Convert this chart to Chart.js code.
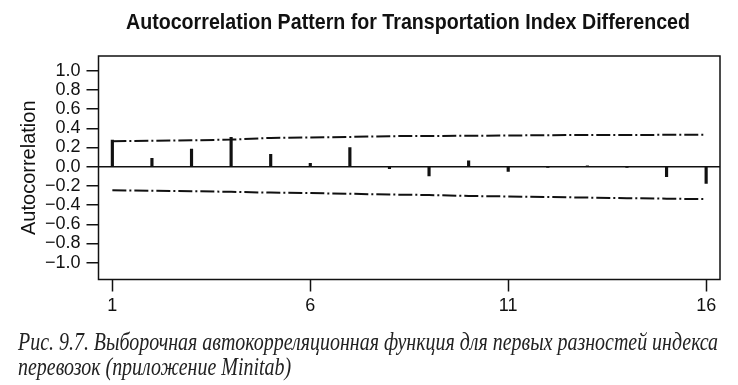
<!DOCTYPE html>
<html>
<head>
<meta charset="utf-8">
<script src="https://cdn.jsdelivr.net/npm/chart.js@4.4.1/dist/chart.umd.min.js"></script>
<style>
  html, body { margin: 0; padding: 0; background: #fff; }
  #wrap { position: relative; width: 738px; height: 385px; overflow: hidden; background: #fff; }
  #c { position: absolute; left: 0; top: 0; }
  .txt { position: absolute; white-space: nowrap; transform-origin: 0 0; color: #111; }
  #title { font: bold 22px 'Liberation Sans', Arial, sans-serif; top: 9px; left: 126px; }
  .cap { font: italic 25px 'Liberation Serif', 'DejaVu Serif', serif; left: 18px; color: #222; }
  #cap1 { top: 328px; }
  #cap2 { top: 353px; }
</style>
</head>
<body>
<div id="wrap">
  <canvas id="c" width="738" height="385"></canvas>
  <div id="title" class="txt">Autocorrelation Pattern for Transportation Index Differenced</div>
  <div id="cap1" class="txt cap">Рис. 9.7. Выборочная автокорреляционная функция для первых разностей индекса</div>
  <div id="cap2" class="txt cap">перевозок (приложение Minitab)</div>
</div>
<script>
// ---- data ----
const lags = [1, 2, 3, 4, 5, 6, 7, 8, 9, 10, 11, 12, 13, 14, 15, 16];
const acf = [0.278, 0.087, 0.184, 0.305, 0.129, 0.035, 0.198, -0.02, -0.095, 0.06, -0.05, -0.008, 0.006, -0.004, -0.104, -0.173];
const upperLimit = [0.265, 0.27, 0.275, 0.282, 0.3, 0.305, 0.31, 0.318, 0.32, 0.322, 0.325, 0.328, 0.33, 0.33, 0.332, 0.333];
const lowerLimit = [-0.245, -0.25, -0.255, -0.262, -0.27, -0.275, -0.282, -0.29, -0.295, -0.305, -0.31, -0.315, -0.322, -0.328, -0.333, -0.338];
const yTicks = [-1.0, -0.8, -0.6, -0.4, -0.2, 0.0, 0.2, 0.4, 0.6, 0.8, 1.0];
const xTicks = [1, 6, 11, 16];
const yTitle = 'Autocorrelation';

// ---- fit html texts to measured widths ----
function fitWidth(id, target) {
  const el = document.getElementById(id);
  const w = el.getBoundingClientRect().width;
  return target / w;
}
const sTitle = fitWidth('title', 564);
document.getElementById('title').style.transform = 'scaleX(' + sTitle + ')';
const sCap = fitWidth('cap1', 700);
document.getElementById('cap1').style.transform = 'scaleX(' + sCap + ')';
document.getElementById('cap2').style.transform = 'scaleX(' + sCap + ')';

const INK = '#111';
const tickFont = { family: "'Liberation Sans', Arial, sans-serif", size: 18 };

const boxPlugin = {
  id: 'box',
  afterDatasetsDraw(chart) {
    const { ctx, chartArea: a } = chart;
    ctx.save();
    ctx.strokeStyle = INK;
    ctx.lineWidth = 1.5;
    ctx.strokeRect(a.left, a.top, a.right - a.left, a.bottom - a.top);
    ctx.restore();
  }
};

new Chart(document.getElementById('c'), {
  type: 'bar',
  data: {
    datasets: [
      {
        type: 'bar',
        data: lags.map((l, i) => ({ x: l, y: acf[i] })),
        backgroundColor: INK,
        borderWidth: 0,
        barThickness: 2.5,
        order: 2
      },
      {
        type: 'line',
        data: lags.map((l, i) => ({ x: l, y: upperLimit[i] })),
        borderColor: INK,
        borderWidth: 2,
        borderDash: [14, 3, 2, 3],
        pointRadius: 0,
        fill: false,
        tension: 0,
        order: 1
      },
      {
        type: 'line',
        data: lags.map((l, i) => ({ x: l, y: lowerLimit[i] })),
        borderColor: INK,
        borderWidth: 2,
        borderDash: [14, 3, 2, 3],
        pointRadius: 0,
        fill: false,
        tension: 0,
        order: 1
      }
    ]
  },
  options: {
    responsive: false,
    animation: false,
    devicePixelRatio: 1,
    layout: { padding: { top: 56, right: 18, bottom: 0, left: 0 } },
    plugins: { legend: { display: false }, title: { display: false }, tooltip: { enabled: false } },
    scales: {
      x: {
        type: 'linear',
        min: 0.65,
        max: 16.35,
        offset: false,
        afterBuildTicks: s => { s.ticks = xTicks.map(v => ({ value: v })); },
        afterFit: s => { s.height = 105.5; },
        border: { display: false },
        grid: { offset: false, drawOnChartArea: false, drawTicks: true, tickLength: 12, tickColor: INK, tickWidth: 1.5 },
        ticks: { color: INK, font: tickFont, padding: 4, maxRotation: 0, autoSkip: false, callback: v => String(v) }
      },
      y: {
        type: 'linear',
        min: -1.175,
        max: 1.153,
        afterBuildTicks: s => { s.ticks = yTicks.map(v => ({ value: v })); },
        afterFit: s => { s.width = 98.5; },
        border: { display: false },
        grid: {
          drawOnChartArea: true,
          color: c => (c.tick && Math.abs(c.tick.value) < 1e-9 ? INK : 'rgba(0,0,0,0)'),
          lineWidth: 1.5,
          drawTicks: true, tickLength: 12, tickColor: INK, tickWidth: 1.5
        },
        ticks: {
          color: INK, font: tickFont, padding: 6, autoSkip: false,
          callback: v => (v < -1e-9 ? '\u2212' : '') + Math.abs(v).toFixed(1)
        },
        title: { display: true, text: yTitle, color: INK, font: { family: "'Liberation Sans', Arial, sans-serif", size: 20 }, padding: { top: 17, bottom: 0 } }
      }
    }
  },
  plugins: [boxPlugin]
});
</script>
</body>
</html>
